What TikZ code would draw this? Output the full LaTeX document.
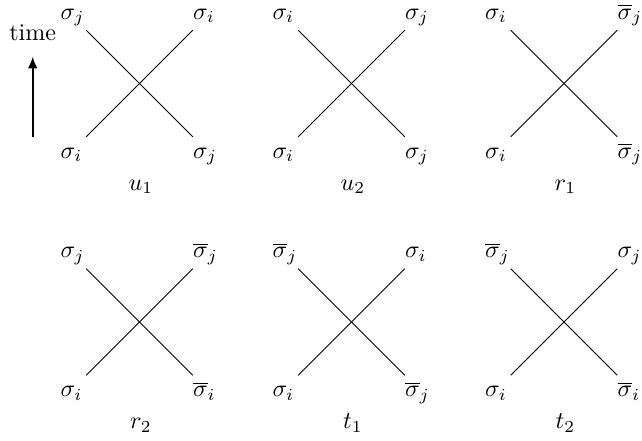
\documentclass[tikz,border=0pt]{standalone}
\usepackage{amsmath, amssymb}
\usepackage{tikz}
\usetikzlibrary{arrows.meta}
\tikzset{
  strand/.style={line width=0.4pt},
  endlabel/.style={anchor=base west, inner sep=0pt},
  caselabel/.style={anchor=base, inner sep=0pt},
  timearrow/.style={-{Latex[length=1.7mm, width=1.4mm]}, thick, shorten >=3pt}
}

\begin{document}
\begin{tikzpicture}[>=Latex]
      \useasboundingbox (0,0) rectangle (9.386,6.433);
      % time axis
      \node[anchor=base] (time) at (0.478,5.838) {time};
      \coordinate (t0) at (0.478,4.435);
      \draw[timearrow] (t0) -- (time);
      % u_1
      \coordinate (u1sw) at (1.261,4.433);
      \coordinate (u1ne) at (2.819,5.991);
      \coordinate (u1nw) at (1.261,5.991);
      \coordinate (u1se) at (2.819,4.433);
      \node[endlabel] (u1tl) at (0.878,6.152) {$\sigma_j$};
      \node[endlabel] (u1tr) at (2.815,6.152) {$\sigma_i$};
      \node[endlabel] (u1bl) at (0.878,4.118) {$\sigma_i$};
      \node[endlabel] (u1br) at (2.815,4.118) {$\sigma_j$};
      \node[caselabel] (u1cap) at (2.060,3.655) {$u_1$};
      \draw[strand] (u1sw) -- (u1ne);
      \draw[strand] (u1nw) -- (u1se);
      % u_2
      \coordinate (u2sw) at (4.360,4.433);
      \coordinate (u2ne) at (5.918,5.991);
      \coordinate (u2nw) at (4.360,5.991);
      \coordinate (u2se) at (5.918,4.433);
      \node[endlabel] (u2tl) at (3.977,6.152) {$\sigma_i$};
      \node[endlabel] (u2tr) at (5.914,6.152) {$\sigma_j$};
      \node[endlabel] (u2bl) at (3.977,4.118) {$\sigma_i$};
      \node[endlabel] (u2br) at (5.914,4.118) {$\sigma_j$};
      \node[caselabel] (u2cap) at (5.159,3.655) {$u_2$};
      \draw[strand] (u2sw) -- (u2ne);
      \draw[strand] (u2nw) -- (u2se);
      % r_1
      \coordinate (r1sw) at (7.467,4.433);
      \coordinate (r1ne) at (9.025,5.991);
      \coordinate (r1nw) at (7.467,5.991);
      \coordinate (r1se) at (9.025,4.433);
      \node[endlabel] (r1tl) at (7.084,6.152) {$\sigma_i$};
      \node[endlabel] (r1tr) at (9.021,6.152) {$\overline{\sigma}_j$};
      \node[endlabel] (r1bl) at (7.084,4.118) {$\sigma_i$};
      \node[endlabel] (r1br) at (9.021,4.118) {$\overline{\sigma}_j$};
      \node[caselabel] (r1cap) at (8.266,3.655) {$r_1$};
      \draw[strand] (r1sw) -- (r1ne);
      \draw[strand] (r1nw) -- (r1se);
      % r_2
      \coordinate (r2sw) at (1.261,0.946);
      \coordinate (r2ne) at (2.819,2.504);
      \coordinate (r2nw) at (1.261,2.504);
      \coordinate (r2se) at (2.819,0.946);
      \node[endlabel] (r2tl) at (0.878,2.665) {$\sigma_j$};
      \node[endlabel] (r2tr) at (2.815,2.665) {$\overline{\sigma}_j$};
      \node[endlabel] (r2bl) at (0.878,0.631) {$\sigma_i$};
      \node[endlabel] (r2br) at (2.815,0.631) {$\overline{\sigma}_i$};
      \node[caselabel] (r2cap) at (2.060,0.168) {$r_2$};
      \draw[strand] (r2sw) -- (r2ne);
      \draw[strand] (r2nw) -- (r2se);
      % t_1
      \coordinate (t1sw) at (4.360,0.946);
      \coordinate (t1ne) at (5.918,2.504);
      \coordinate (t1nw) at (4.360,2.504);
      \coordinate (t1se) at (5.918,0.946);
      \node[endlabel] (t1tl) at (3.977,2.665) {$\overline{\sigma}_j$};
      \node[endlabel] (t1tr) at (5.914,2.665) {$\sigma_i$};
      \node[endlabel] (t1bl) at (3.977,0.631) {$\sigma_i$};
      \node[endlabel] (t1br) at (5.914,0.631) {$\overline{\sigma}_j$};
      \node[caselabel] (t1cap) at (5.159,0.168) {$t_1$};
      \draw[strand] (t1sw) -- (t1ne);
      \draw[strand] (t1nw) -- (t1se);
      % t_2
      \coordinate (t2sw) at (7.467,0.946);
      \coordinate (t2ne) at (9.025,2.504);
      \coordinate (t2nw) at (7.467,2.504);
      \coordinate (t2se) at (9.025,0.946);
      \node[endlabel] (t2tl) at (7.084,2.665) {$\overline{\sigma}_j$};
      \node[endlabel] (t2tr) at (9.021,2.665) {$\sigma_j$};
      \node[endlabel] (t2bl) at (7.084,0.631) {$\sigma_i$};
      \node[endlabel] (t2br) at (9.021,0.631) {$\overline{\sigma}_i$};
      \node[caselabel] (t2cap) at (8.266,0.168) {$t_2$};
      \draw[strand] (t2sw) -- (t2ne);
      \draw[strand] (t2nw) -- (t2se);
    \end{tikzpicture}
\end{document}
